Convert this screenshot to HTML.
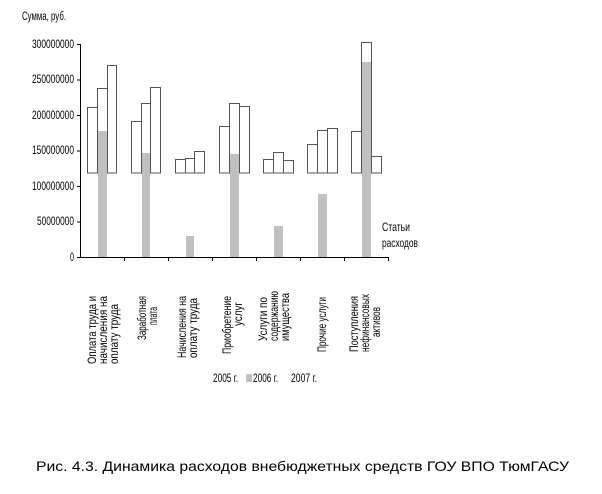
<!DOCTYPE html>
<html><head><meta charset="utf-8"><style>
body{margin:0;background:#fff;width:602px;height:489px;overflow:hidden}
svg text{font-family:"Liberation Sans",sans-serif;fill:#000}
</style></head><body>
<svg width="602" height="489" viewBox="0 0 602 489">
<g font-size="11.5">
<text x="22" y="20" textLength="44" lengthAdjust="spacingAndGlyphs">Сумма, руб.</text>
<g text-anchor="end">
<text x="74" y="48" textLength="42" lengthAdjust="spacingAndGlyphs">300000000</text>
<text x="74" y="83" textLength="42" lengthAdjust="spacingAndGlyphs">250000000</text>
<text x="74" y="119" textLength="42" lengthAdjust="spacingAndGlyphs">200000000</text>
<text x="74" y="154" textLength="42" lengthAdjust="spacingAndGlyphs">150000000</text>
<text x="74" y="190" textLength="42" lengthAdjust="spacingAndGlyphs">100000000</text>
<text x="74" y="225" textLength="37" lengthAdjust="spacingAndGlyphs">50000000</text>
<text x="74" y="261" textLength="4" lengthAdjust="spacingAndGlyphs">0</text>
</g>
</g>
<g stroke="#000" stroke-width="1" fill="none">
<path d="M80.5 44V257.5H388"/>
<path d="M77 44.5h3.5M77 80h3.5M77 115.5h3.5M77 151h3.5M77 186.5h3.5M77 222h3.5M77 257.5h3.5"/>
<path d="M124.5 257v4M168.5 257v4M212.5 257v4M256.5 257v4M300.5 257v4M344.5 257v4M388.5 257v4"/>
</g>
<g fill="#fff" stroke="#555" stroke-width="1">
<rect x="87.5" y="107.5" width="10" height="65.5"/><rect x="97.5" y="88.5" width="10" height="84.5"/><rect x="107.5" y="65.5" width="9" height="107.5"/>
<rect x="131.5" y="121.5" width="10" height="51.5"/><rect x="141.5" y="103.5" width="9" height="69.5"/><rect x="150.5" y="87.5" width="10" height="85.5"/>
<rect x="175.5" y="159.5" width="10" height="13.5"/><rect x="185.5" y="158.5" width="9" height="14.5"/><rect x="194.5" y="151.5" width="10" height="21.5"/>
<rect x="219.5" y="126.5" width="10" height="46.5"/><rect x="229.5" y="103.5" width="10" height="69.5"/><rect x="239.5" y="106.5" width="10" height="66.5"/>
<rect x="263.5" y="159.5" width="10" height="13.5"/><rect x="273.5" y="152.5" width="10" height="20.5"/><rect x="283.5" y="160.5" width="10" height="12.5"/>
<rect x="307.5" y="144.5" width="10" height="28.5"/><rect x="317.5" y="130.5" width="10" height="42.5"/><rect x="327.5" y="128.5" width="10" height="44.5"/>
<rect x="351.5" y="131.5" width="10" height="41.5"/><rect x="361.5" y="42.5" width="10" height="130.5"/><rect x="371.5" y="156.5" width="10" height="16.5"/>
</g>
<g fill="#c0c0c0">
<rect x="98" y="131" width="9" height="126"/>
<rect x="142" y="153" width="8" height="104"/>
<rect x="186" y="236" width="8" height="21"/>
<rect x="230" y="154" width="9" height="103"/>
<rect x="274" y="226" width="9" height="31"/>
<rect x="318" y="194" width="9" height="63"/>
<rect x="362" y="62" width="9" height="195"/>
</g>
<g font-size="12">
<text x="382" y="231" textLength="28" lengthAdjust="spacingAndGlyphs">Статьи</text>
<text x="382" y="247" textLength="36" lengthAdjust="spacingAndGlyphs">расходов</text>
</g>
<g font-size="11.5">
<g transform="translate(96,364) rotate(-90)"><text x="0" y="0" textLength="68" lengthAdjust="spacingAndGlyphs">Оплата труда и</text><text x="0" y="11" textLength="68" lengthAdjust="spacingAndGlyphs">начисления на</text><text x="0" y="22" textLength="60" lengthAdjust="spacingAndGlyphs">оплату труда</text></g>
<g transform="translate(146,340) rotate(-90)"><text x="0" y="0" textLength="44" lengthAdjust="spacingAndGlyphs">Заработная</text><text x="15" y="11" textLength="18" lengthAdjust="spacingAndGlyphs">плата</text></g>
<g transform="translate(186,358) rotate(-90)"><text x="0" y="0" textLength="62" lengthAdjust="spacingAndGlyphs">Начисления на</text><text x="0" y="11" textLength="60" lengthAdjust="spacingAndGlyphs">оплату труда</text></g>
<g transform="translate(231,354) rotate(-90)"><text x="0" y="0" textLength="58" lengthAdjust="spacingAndGlyphs">Приобретение</text><text x="28" y="11" textLength="24" lengthAdjust="spacingAndGlyphs">услуг</text></g>
<g transform="translate(267,341) rotate(-90)"><text x="0" y="0" textLength="44" lengthAdjust="spacingAndGlyphs">Услуги по</text><text x="0" y="11" textLength="50" lengthAdjust="spacingAndGlyphs">содержанию</text><text x="0" y="22" textLength="48" lengthAdjust="spacingAndGlyphs">имущества</text></g>
<g transform="translate(326,352) rotate(-90)"><text x="0" y="0" textLength="55" lengthAdjust="spacingAndGlyphs">Прочие услуги</text></g>
<g transform="translate(358,352) rotate(-90)"><text x="0" y="0" textLength="56" lengthAdjust="spacingAndGlyphs">Поступления</text><text x="0" y="11" textLength="58" lengthAdjust="spacingAndGlyphs">нефинансовых</text><text x="15" y="22" textLength="30" lengthAdjust="spacingAndGlyphs">активов</text></g>
</g>
<g font-size="11.5">
<text x="213" y="382" textLength="25" lengthAdjust="spacingAndGlyphs">2005 г.</text>
<rect x="246" y="374" width="6" height="8" fill="#c0c0c0"/>
<text x="253" y="382" textLength="25" lengthAdjust="spacingAndGlyphs">2006 г.</text>
<text x="291" y="382" textLength="26" lengthAdjust="spacingAndGlyphs">2007 г.</text>
</g>
<text x="36" y="471" font-size="14" textLength="533" lengthAdjust="spacingAndGlyphs">Рис. 4.3. Динамика расходов внебюджетных средств ГОУ ВПО ТюмГАСУ</text>
</svg>
</body></html>
